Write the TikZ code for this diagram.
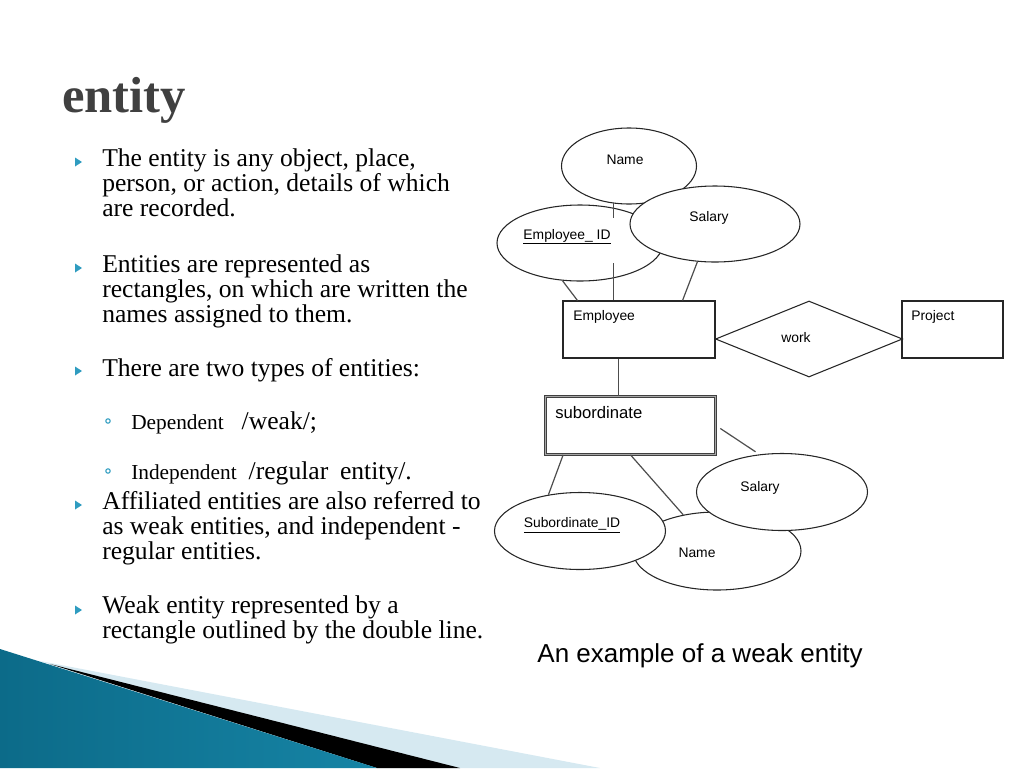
\documentclass[tikz,border=0pt]{standalone}
\usepackage{fontspec}
\setmainfont{Liberation Serif}
\newfontfamily\diagfont{Liberation Sans}
\usetikzlibrary{shapes.geometric, positioning, calc}
\definecolor{slide-teal}{HTML}{2F9CC0}
\definecolor{title-gray}{HTML}{404040}
\definecolor{wedge-dark}{HTML}{0C6B89}
\definecolor{wedge-light}{HTML}{55B4D3}
\definecolor{wedge-mid}{HTML}{1684A5}
\definecolor{wedge-pale}{HTML}{D6E9F1}
\definecolor{er-line}{HTML}{4D4D4D}
\newcommand{\px}{0.75pt}
\newcommand{\bultri}[2]{%  \bultri{x}{baseline}
  \fill[slide-teal] (#1,#2-9.5) -- (#1+7,#2-5) -- (#1,#2-0.5) -- cycle;}
\newcommand{\bulring}[2]{%  \bulring{x}{baseline}
  \draw[slide-teal, line width=0.8pt] (#1,#2-8) circle[radius=2.2*\px];}

\begin{document}
\begin{tikzpicture}[x=0.75pt, y=-0.75pt,
    bodytext/.style={font=\fontsize{19.2}{18.4}\selectfont, align=left,
                     inner sep=0, anchor=base west},
    attr/.style={ellipse, draw=black!85, fill=white, line width=0.8pt, inner sep=0},
    ent/.style={rectangle, draw=black!85, line width=0.8pt, inner sep=0},
    weakent/.style={rectangle, draw=black!75, double=black!35,
                    double distance=1.2pt, line width=0.7pt, inner sep=0},
    rel/.style={diamond, draw=black!85, line width=0.8pt, inner sep=0},
    erlabel/.style={font=\diagfont\fontsize{10.4}{12}\selectfont, inner sep=0},
    link/.style={draw=er-line, line width=0.9pt}]
  \useasboundingbox (0,0) rectangle (1024,768);

  % ── corner wedge ──
  \fill[wedge-pale] (40,661) -- (600,768) -- (377,768) -- cycle;
  \fill[black] (50,664) -- (460,768) -- (377,768) -- cycle;
  \shade[left color=wedge-dark, middle color=wedge-light, right color=wedge-mid]
        (0,649) -- (377,768) -- (0,768) -- cycle;

  % ── title and bullets (nodes sit on the baseline of their last line) ──
  \node[font=\fontsize{38}{40}\selectfont\bfseries, text=title-gray,
        inner sep=0, anchor=base west] (title) at (62,112) {entity};

  \bultri{75}{167}
  \node[bodytext] (b1) at (102,216)
        {The entity is any object, place,\\ person, or action, details of which\\ are recorded.};
  \bultri{75}{273}
  \node[bodytext] (b2) at (102,322)
        {Entities are represented as\\ rectangles, on which are written the\\ names assigned to them.};
  \bultri{75}{376}
  \node[bodytext] (b3) at (102,376) {There are two types of entities:};
  \bulring{108}{429}
  \node[bodytext] (s1) at (131,429)
        {{\fontsize{16}{18}\selectfont Dependent}\hspace{13.5pt}/weak/;};
  \bulring{108}{479}
  \node[bodytext] (s2) at (131,479)
        {{\fontsize{16}{18}\selectfont Independent}\hspace{9pt}/regular\hspace{4pt} entity/.};
  \bultri{75}{510}
  \node[bodytext] (b4) at (102,559)
        {Affiliated entities are also referred to\\ as weak entities, and independent -\\ regular entities.};
  \bultri{75}{615}
  \node[bodytext] (b5) at (102,638)
        {Weak entity represented by a\\ rectangle outlined by the double line.};

  % ── ER diagram: employee side ──
  \node[attr, minimum width=135*\px, minimum height=76*\px] (nameA) at (629,166) {};
  \node[erlabel] (nameAtxt) at (625,160) {Name};
  \node[attr, minimum width=166*\px, minimum height=76*\px] (empid) at (580,243) {};
  \node[attr, minimum width=170*\px, minimum height=76*\px] (salA) at (715,224) {};
  \node[erlabel] (salAtxt) at (709,218) {Salary};

  \node[ent, minimum width=152*\px, minimum height=57*\px] (empl) at (639,329.5) {};
  \node[erlabel, anchor=base west] (empltxt) at (573,320) {Employee};
  \node[rel, minimum width=187*\px, minimum height=76*\px] (work) at (809,339) {};
  \node[erlabel, anchor=base] (worktxt) at (796,342) {work};
  \node[ent, minimum width=101*\px, minimum height=57*\px] (proj) at (952.5,329.5) {};
  \node[erlabel, anchor=base west] (projtxt) at (911,320) {Project};

  \draw[link] (nameA.247) -- (nameA.247 |- empl.north);
  \draw[link] (empid.245) -- ($(empl.north west)+(15,0)$);
  \draw[link] (salA.245) -- ($(empl.north east)+(-33,0)$);
  \node[erlabel, anchor=base, fill=white, text height=15.75pt, text depth=18pt,
        inner xsep=3pt] (empidtxt) at (567,239) {\underline{Employee\_ ID}};

  % ── weak entity side ──
  \node[weakent, minimum width=169.8*\px, minimum height=57.8*\px] (sub) at (630.5,425.5) {};
  \node[erlabel, font=\diagfont\fontsize{12.5}{14}\selectfont, anchor=base west]
        (subtxt) at (555,418) {subordinate};
  \draw[link] ($(empl.south west)+(56,0)$) coordinate (e1) -- (e1 |- sub.north);

  \node[attr, minimum width=168*\px, minimum height=78*\px] (nameB) at (717,551) {};
  \node[attr, minimum width=171*\px, minimum height=77*\px] (salB) at (782,492) {};
  \node[attr, minimum width=171*\px, minimum height=77*\px] (subid) at (580,531) {};
  \node[erlabel] (nameBtxt) at (697,553) {Name};
  \node[erlabel] (salBtxt) at (760,488) {Salary};
  \node[erlabel] (subidtxt) at (572,525) {\underline{Subordinate\_ID}};

  \draw[link] ($(sub.south west)+(18,0)$) -- (subid.131);
  \draw[link] (sub.south) -- (nameB.133);
  \draw[link, shorten <=4pt, shorten >=3.5pt] (sub.east) -- (salB.121);

  \node[font=\diagfont\fontsize{19.5}{22}\selectfont, anchor=base, inner sep=0]
        (caption) at (700,662) {An example of a weak entity};
\end{tikzpicture}
\end{document}
